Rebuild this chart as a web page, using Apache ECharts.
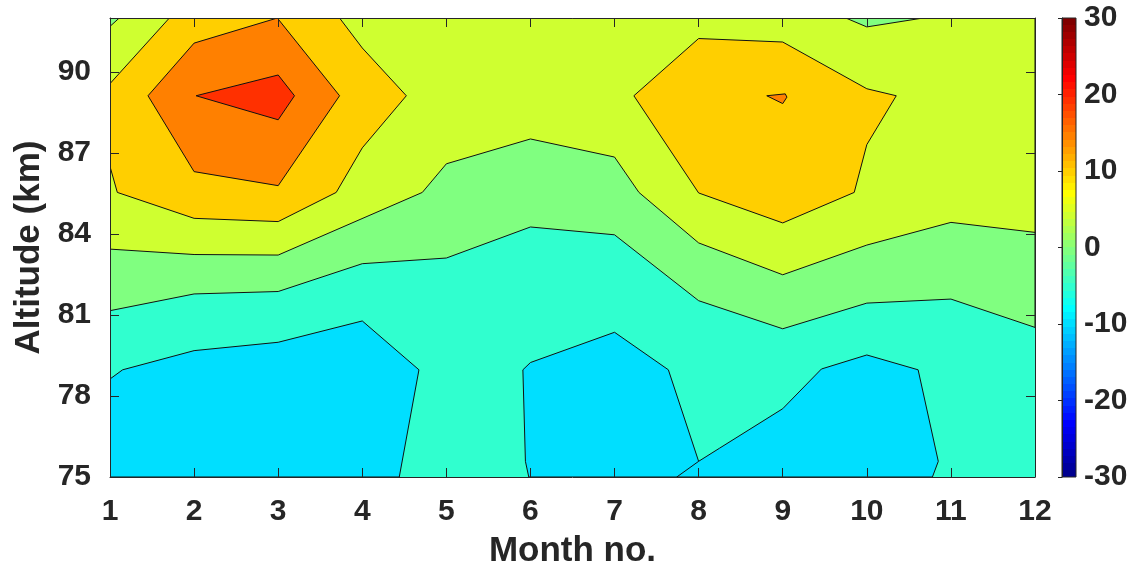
<!DOCTYPE html>
<html><head><meta charset="utf-8">
<script src="https://cdn.jsdelivr.net/npm/echarts@6/dist/echarts.min.js"></script>
<style>html,body{margin:0;padding:0;background:#fff}#c{width:1129px;height:570px}</style>
</head><body><div id="c"></div>
<script>
// ---- data ----
const months = [1,2,3,4,5,6,7,8,9,10,11,12];
const altTicks = [75,78,81,84,87,90];
const cbarTicks = [-30,-20,-10,0,10,20,30];
const levels = [-10,-5,0,5,10,15,20];

// contour boundaries, [month, altitude km]
const contour0 = [[1,81.16],[2,81.78],[3,81.87],[4,82.9],[5,83.11],[6,84.26],[7,83.97],[8,81.53],[9,80.49],[10,81.44],[11,81.59],[12,80.54]];
const contour5 = [[1,83.44],[2,83.24],[3,83.22],[4.714,85.54],[5,86.6],[6,87.52],[7,86.85],[7.29,85.54],[8,83.67],[9,82.49],[10,83.59],[11,84.43],[12,84.06]];
const blueLeft = [[1,75],[1,78.63],[1.15,78.97],[2,79.68],[3,79.99],[4,80.78],[4.674,78.97],[4.44,75]];
const blueMid = [[5.98,75],[5.94,75.58],[5.91,78.97],[6,79.24],[7,80.36],[7.64,78.97],[8,75.58],[8.095,75]];
const blueRight = [[7.74,75],[8,75.58],[8.25,76.07],[9,77.53],[9.46,79.0],[10,79.52],[10.61,78.97],[10.85,75.58],[10.78,75]];
const greenTopLeft = [[1,92],[1,91.69],[1.11,92]];
const greenTopRight = [[9.75,92],[10,91.67],[10.67,92]];
const amberLeft = [[1,89.57],[1.706,92],[3.73,92],[4,90.89],[4.524,89.12],[4,87.19],[3.69,85.54],[3,84.46],[2,84.58],[1.087,85.54],[1,86.5]];
const amberRight = [[8,91.24],[9,91.11],[10,89.38],[10.35,89.12],[10,87.31],[9.85,85.54],[9,84.41],[8,85.52],[7.23,89.12]];
const orangeLeft = [[1.452,89.12],[2,91.07],[2.99,92],[3.73,89.12],[3,85.79],[2,86.31]];
const orangeRight = [[8.81,89.12],[9.03,89.19],[9.05,89.07],[9,88.83]];
const redLeft = [[2.024,89.12],[3,89.89],[3.194,89.12],[3,88.23]];

// ---- jet colormap (MATLAB jet(64)) ----
function jet64(){
  const n=64,m=16,u=[];
  for(let i=1;i<=m;i++)u.push(i/m);
  for(let i=0;i<m-1;i++)u.push(1);
  for(let i=m;i>=1;i--)u.push(i/m);
  const J=Array.from({length:n},()=>[0,0,0]);
  const g0=Math.ceil(m/2)-(n%4===1?1:0);
  for(let k=1;k<=u.length;k++){
    const g=g0+k,r=g+m,b=g-m;
    if(r>=1&&r<=n)J[r-1][0]=u[k-1];
    if(g>=1&&g<=n)J[g-1][1]=u[k-1];
    if(b>=1&&b<=n)J[b-1][2]=u[k-1];
  }
  return J;
}
const JET=jet64();
const toCss=c=>'rgb('+c.map(v=>Math.round(v*255)).join(',')+')';
const cmin=-30,cmax=30;
function levelColor(v){
  const row=Math.floor((v-cmin)/(cmax-cmin)*63+1e-9);
  return toCss(JET[Math.max(0,Math.min(63,row))]);
}
const baseColor = levelColor(levels[1]);

const regions = [
  {level:levels[0], pts:blueLeft},
  {level:levels[0], pts:blueMid},
  {level:levels[0], pts:blueRight},
  {level:levels[2], pts:contour0.concat([[12,92],[1,92]])},
  {level:levels[3], pts:contour5.concat([[12,92],[1,92]])},
  {level:levels[2], pts:greenTopLeft},
  {level:levels[2], pts:greenTopRight},
  {level:levels[4], pts:amberLeft},
  {level:levels[4], pts:amberRight},
  {level:levels[5], pts:orangeLeft},
  {level:levels[5], pts:orangeRight},
  {level:levels[6], pts:redLeft}
];

const stops=[];
JET.forEach((c,i)=>{stops.push({offset:i/64,color:toCss(c)});stops.push({offset:(i+1)/64,color:toCss(c)});});

const FONT='Liberation Sans';
const TXT='#262626';
const lab={fontFamily:FONT,fontWeight:'bold',fontSize:30,color:TXT};
const nameStyle={fontFamily:FONT,fontWeight:'bold',fontSize:35,color:TXT};
const axLine={show:true,lineStyle:{color:TXT,width:1}};

const chart=echarts.init(document.getElementById('c'),null,{renderer:'canvas'});
chart.setOption({
  animation:false,
  backgroundColor:'#fff',
  grid:[
    {left:110,right:94,top:18,bottom:93,show:true,backgroundColor:baseColor,borderWidth:0,containLabel:false,outerBoundsMode:'none'},
    {left:1062,width:14,top:18,height:459,show:false,containLabel:false,outerBoundsMode:'none'}
  ],
  xAxis:[
    {gridIndex:0,type:'value',position:'bottom',min:1,max:12,interval:1,z:10,
     axisLine:axLine,axisTick:{inside:true,length:9,lineStyle:{color:TXT}},
     axisLabel:Object.assign({margin:20},lab),splitLine:{show:false},
     name:'Month no.',nameLocation:'middle',nameGap:57,nameTextStyle:nameStyle},
    {gridIndex:0,type:'value',position:'top',min:1,max:12,interval:1,z:10,
     axisLine:axLine,axisTick:{inside:true,length:9,lineStyle:{color:TXT}},
     axisLabel:{show:false},splitLine:{show:false}},
    {gridIndex:1,type:'value',min:0,max:1,show:false}
  ],
  yAxis:[
    {gridIndex:0,type:'value',position:'left',min:75,max:92,interval:3,z:10,
     axisLine:axLine,axisTick:{inside:true,length:9,lineStyle:{color:TXT}},
     axisLabel:Object.assign({margin:19,showMaxLabel:false},lab),splitLine:{show:false},
     name:'Altitude (km)',nameLocation:'middle',nameGap:58,nameTextStyle:nameStyle},
    {gridIndex:0,type:'value',position:'right',min:75,max:92,interval:3,z:10,
     axisLine:axLine,axisTick:{inside:true,length:9,lineStyle:{color:TXT}},
     axisLabel:{show:false},splitLine:{show:false}},
    {gridIndex:1,type:'value',position:'right',min:cbarTicks[0],max:cbarTicks[cbarTicks.length-1],interval:10,z:10,
     axisLine:axLine,axisTick:{inside:true,length:4,lineStyle:{color:TXT}},
     axisLabel:Object.assign({margin:8},lab),splitLine:{show:false}}
  ],
  series:[
    {type:'custom',xAxisIndex:0,yAxisIndex:0,clip:true,
     data:regions.map((r,i)=>[months[0],altTicks[0],i]),
     encode:{x:0,y:1},
     renderItem:function(params,api){
       const r=regions[api.value(2)];
       return {type:'polygon',shape:{points:r.pts.map(p=>api.coord(p))},
         style:{fill:levelColor(r.level),stroke:'#111',lineWidth:1}};
     }},
    {type:'custom',xAxisIndex:2,yAxisIndex:2,
     data:[[0,cbarTicks[0]]],encode:{x:0,y:1},
     renderItem:function(params,api){
       const p0=api.coord([0,cbarTicks[cbarTicks.length-1]]),p1=api.coord([1,cbarTicks[0]]);
       return {type:'rect',shape:{x:p0[0],y:p0[1],width:p1[0]-p0[0],height:p1[1]-p0[1]},
         style:{fill:new echarts.graphic.LinearGradient(0,1,0,0,stops),stroke:TXT,lineWidth:1}};
     }}
  ]
});
</script></body></html>
